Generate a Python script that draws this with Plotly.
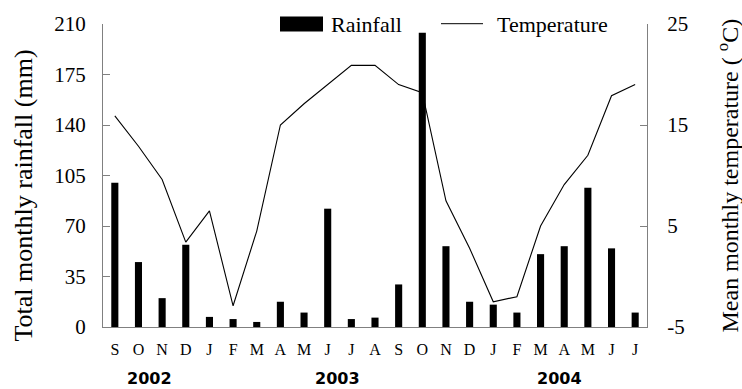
import plotly.graph_objects as go

# ---- data ----
month_labels = ["S", "O", "N", "D", "J", "F", "M", "A", "M", "J", "J", "A",
                "S", "O", "N", "D", "J", "F", "M", "A", "M", "J", "J"]
rainfall_mm = [100, 45, 20, 57, 7, 5.5, 3.5, 17.5, 10, 82, 5.5, 6.5,
               29.5, 204, 56, 17.5, 15.5, 10, 50.5, 56, 96.5, 54.5, 10]
temperature_c = [15.9, 12.9, 9.6, 3.4, 6.5, -2.9, 4.5, 15.0, 17.1, 19.0, 20.9, 20.9,
                 19.0, 18.2, 7.5, 2.8, -2.5, -2.0, 5.0, 9.1, 12.0, 17.9, 19.0]
year_labels = ["2002", "2003", "2004"]
year_pos = [1.45, 9.4, 18.8]
rain_ticks = [0, 35, 70, 105, 140, 175, 210]
temp_ticks = [-5, 5, 15, 25]
temp_tick_text = ["-5", "5", "15", "25"]

x_idx = list(range(len(month_labels)))
SERIF = "Liberation Serif"
AXIS_GRAY = "#808080"

fig = go.Figure()
fig.add_trace(go.Bar(x=x_idx, y=rainfall_mm, name="Rainfall",
                     marker=dict(color="black", line=dict(width=0)),
                     showlegend=False, yaxis="y"))
fig.add_trace(go.Scatter(x=x_idx, y=temperature_c, name="Temperature", mode="lines",
                         line=dict(color="black", width=1.1),
                         showlegend=False, yaxis="y2"))

fig.update_layout(
    width=742, height=389,
    margin=dict(l=103, r=95, t=21, b=62),
    paper_bgcolor="white", plot_bgcolor="white",
    bargap=0.7,
    font=dict(family=SERIF, color="black"),
    xaxis=dict(range=[-0.5, 22.5], tickmode="array", tickvals=x_idx, ticktext=month_labels,
               showline=True, linecolor=AXIS_GRAY, linewidth=1, ticks="",
               showgrid=False, zeroline=False, ticklabelstandoff=8,
               tickfont=dict(family=SERIF, size=16)),
    yaxis=dict(range=[0, 210], tickmode="array", tickvals=rain_ticks,
               showline=True, linecolor=AXIS_GRAY, linewidth=1,
               ticks="inside", ticklen=7, tickcolor=AXIS_GRAY,
               showgrid=False, zeroline=False, ticklabelstandoff=12,
               tickfont=dict(family=SERIF, size=21)),
    yaxis2=dict(range=[-5, 25], tickmode="array", tickvals=temp_ticks, ticktext=temp_tick_text,
                overlaying="y", side="right",
                showline=True, linecolor=AXIS_GRAY, linewidth=1,
                ticks="inside", ticklen=7, tickcolor=AXIS_GRAY,
                showgrid=False, zeroline=False, ticklabelstandoff=15,
                tickfont=dict(family=SERIF, size=21)),
)

ann = []
ann.append(dict(text="Total monthly rainfall (mm)", xref="paper", yref="paper",
                x=0, y=0.5, xshift=-80, yshift=-20, textangle=-90, showarrow=False,
                font=dict(family=SERIF, size=26), xanchor="center", yanchor="middle"))
ann.append(dict(text="Mean monthly temperature ( <sup>o</sup>C)", xref="paper", yref="paper",
                x=1, y=0.5, xshift=80, yshift=0, textangle=-90, showarrow=False,
                font=dict(family=SERIF, size=24), xanchor="center", yanchor="middle"))
for lbl, pos in zip(year_labels, year_pos):
    ann.append(dict(text="<b>%s</b>" % lbl, xref="x", yref="paper", x=pos, y=0,
                    yshift=-51, showarrow=False, xanchor="center", yanchor="middle",
                    font=dict(family="DejaVu Sans", size=16, color="black")))

# manual legend
ann.append(dict(text="Rainfall", xref="paper", yref="paper", x=(329 - 103) / 544, y=1,
                yshift=0, xanchor="left", yanchor="middle", showarrow=False,
                font=dict(family=SERIF, size=22)))
ann.append(dict(text="Temperature", xref="paper", yref="paper", x=(495 - 103) / 544, y=1,
                yshift=0, xanchor="left", yanchor="middle", showarrow=False,
                font=dict(family=SERIF, size=22)))
fig.update_layout(annotations=ann)

shapes = [
    dict(type="rect", xref="paper", yref="paper",
         x0=(280 - 103) / 544, x1=(323 - 103) / 544,
         y0=(327 - 28.5) / 306, y1=(327 - 13.5) / 306,
         fillcolor="black", line=dict(width=0)),
    dict(type="line", xref="paper", yref="paper",
         x0=(441 - 103) / 544, x1=(483 - 103) / 544,
         y0=(327 - 20.7) / 306, y1=(327 - 20.7) / 306,
         line=dict(color="black", width=1)),
]
fig.update_layout(shapes=shapes)

fig.write_html("out.html")
